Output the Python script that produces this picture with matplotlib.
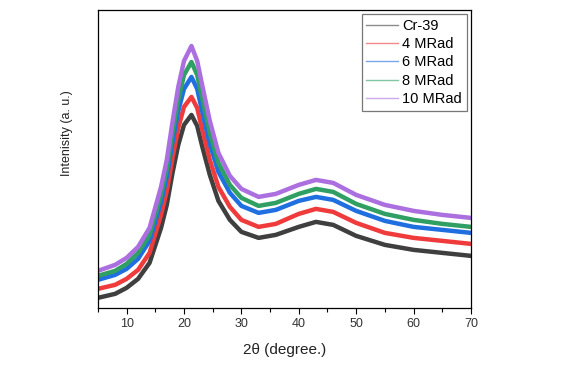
import matplotlib
matplotlib.use("Agg")
import matplotlib.pyplot as plt
from matplotlib.ticker import MultipleLocator

plt.rcParams['font.family'] = ['Liberation Sans', 'DejaVu Sans']

# 2-theta positions (degree) where the traces were read
two_theta = [5, 8, 10, 12, 14, 16, 17, 18, 19, 20, 21.3, 22.3, 23.2, 24.5, 26,
             28, 30, 33, 36, 40, 43, 46, 50, 55, 60, 65, 70]

# intensity (a. u.)
cr39   = [10, 14, 20, 29, 45, 80, 103, 135, 163, 183, 193, 182, 161, 133, 107,
          88, 76, 70, 73, 81, 86, 83, 72, 63, 58, 55, 52]
mrad4  = [19, 23, 29, 38, 55, 93, 117, 150, 180, 201, 211, 200, 178, 148, 121,
          101, 88, 81, 84, 94, 99, 96, 85, 75, 70, 67, 64]
mrad6  = [28, 33, 39, 49, 67, 106, 131, 166, 197, 219, 231, 219, 196, 164, 136,
          115, 102, 95, 98, 107, 111, 108, 97, 87, 81, 78, 75]
mrad8  = [32, 37, 44, 55, 73, 113, 139, 175, 208, 233, 246, 233, 209, 175, 145,
          123, 110, 102, 105, 114, 119, 116, 104, 94, 88, 84, 81]
mrad10 = [37, 43, 50, 61, 80, 121, 148, 186, 221, 247, 262, 247, 222, 187, 155,
          132, 119, 111, 114, 123, 128, 125, 113, 103, 97, 93, 90]

labels = ['Cr-39', '4 MRad', '6 MRad', '8 MRad', '10 MRad']
colors = ['#3f3f3f', '#ef3b3b', '#1f6fe0', '#2f9f63', '#ab6fe0']
series = [cr39, mrad4, mrad6, mrad8, mrad10]

fig = plt.figure(figsize=(5.66, 3.70), dpi=100)
ax = fig.add_axes([0.173, 0.168, 0.659, 0.805])

for y, c, lab in zip(series, colors, labels):
    ax.plot(two_theta, y, color=c, lw=3.2, solid_joinstyle='round', label=lab)

ax.set_xlim(5, 70)
ax.set_ylim(0, 298)
ax.xaxis.set_major_locator(MultipleLocator(10))
ax.xaxis.set_minor_locator(MultipleLocator(5))
ax.tick_params(axis='x', which='major', direction='out', length=4, width=0.8,
               labelsize=9, pad=3, labelcolor='#333333')
ax.tick_params(axis='x', which='minor', direction='out', length=3, width=0.8)
ax.set_yticks([])
for s in ax.spines.values():
    s.set_linewidth(0.9)

ax.set_xlabel('2θ (degree.)', fontsize=11, labelpad=10, color='#222222')
ax.set_ylabel('Intenisity (a. u.)', fontsize=9, color='#222222')
ax.yaxis.set_label_coords(-0.067, 0.586)

leg = ax.legend(loc='upper right', fontsize=10.5, frameon=True, fancybox=False,
                edgecolor='#555555', handlelength=2.2, handletextpad=0.3,
                labelspacing=0.3, borderpad=0.3, borderaxespad=0.3)
leg.get_frame().set_linewidth(0.9)
for h in leg.get_lines():
    h.set_linewidth(1.0)
    h.set_alpha(0.6)

fig.savefig('out.png', dpi=100)
